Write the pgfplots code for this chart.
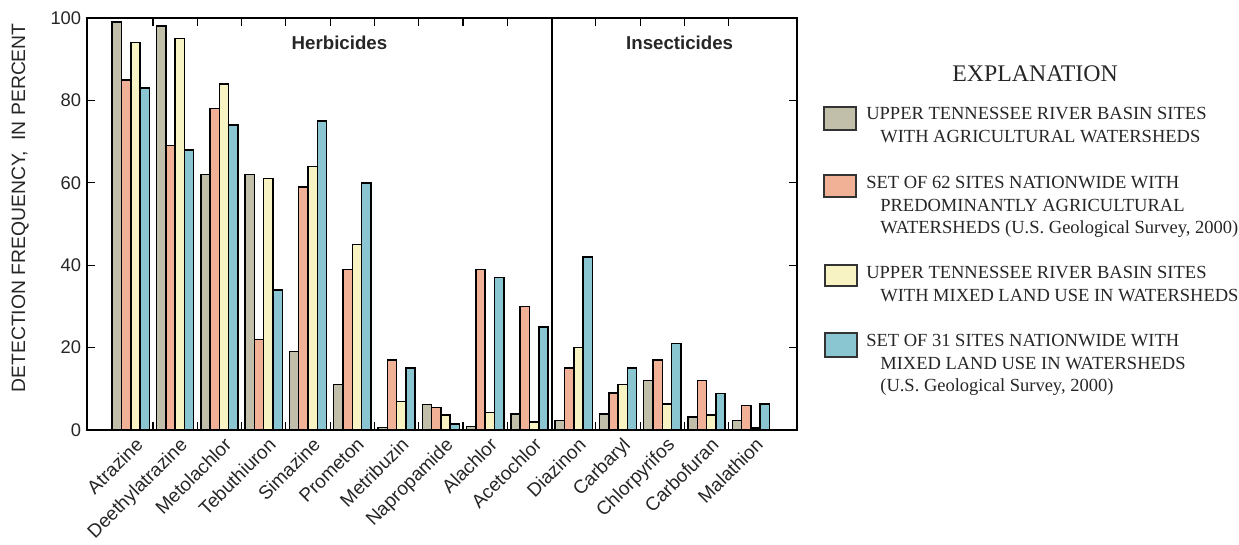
\documentclass[border=0pt]{standalone}
\usepackage{fontspec}
\setmainfont{Liberation Sans}
\newfontfamily\serif{Liberation Serif}
\usepackage{pgfplots}
\usepackage{pgfplotstable}
\pgfplotsset{compat=1.18}
\definecolor{cgray}{RGB}{193,190,170}
\definecolor{cred}{RGB}{240,177,151}
\definecolor{cyel}{RGB}{248,243,195}
\definecolor{cblue}{RGB}{137,198,210}
\pgfplotstableread{
x a b c d
0 99 85 94 83
1 98 69 95 68
2 62 78 84 74
3 62 22 61 34
4 19 59 64 75
5 11 39 45 60
6 0.6 17 6.9 15
7 6.2 5.5 3.6 1.4
8 0.8 39 4.2 37
9 3.9 30 2 25
10 2.3 15 20 42
11 3.9 9 11 15
12 12 17 6.3 21
13 3.1 12 3.6 8.8
14 2.3 5.9 0.5 6.3
}\data
\begin{document}
\begin{tikzpicture}
\begin{axis}[
  name=ax, scale only axis, width=426pt, height=247.2pt,
  xmin=-0.99, xmax=15.04, ymin=0, ymax=100,
  ybar=0pt, bar width=0.21,
  axis line style={line width=0.8pt},
  tick align=inside,
  major tick length=4.8pt,
  tick style={black, line width=0.7pt},
  xtick={0.5,1.5,...,13.5}, xticklabels={},
  extra x ticks={0,1,...,14},
  extra x tick labels={Atrazine,Deethylatrazine,Metolachlor,Tebuthiuron,Simazine,Prometon,Metribuzin,Napropamide,Alachlor,Acetochlor,Diazinon,Carbaryl,Chlorpyrifos,Carbofuran,Malathion},
  extra x tick style={major tick length=0pt, tick style={draw=none},
    tick label style={rotate=45, anchor=north east, font=\fontsize{11.4}{13}\selectfont, text=black!85, inner sep=1pt, yshift=-3pt}},
  ytick={0,20,...,100},
  yticklabel style={font=\fontsize{11}{13}\selectfont, text=black!85},
  /pgf/number format/assume math mode=true,
  ylabel={DETECTION FREQUENCY, \ IN PERCENT},
  ylabel style={at={(axis description cs:-0.094,0.539)}, anchor=center, font=\fontsize{11.6}{13}\selectfont, text=black!85},
]
\addplot[fill=cgray, draw=black, line width=0.9pt] table[x=x,y=a]{\data};
\addplot[fill=cred, draw=black, line width=0.9pt] table[x=x,y=b]{\data};
\addplot[fill=cyel, draw=black, line width=0.9pt] table[x=x,y=c]{\data};
\addplot[fill=cblue, draw=black, line width=0.9pt] table[x=x,y=d]{\data};
\draw[line width=1.2pt] (axis cs:9.5,0) -- (axis cs:9.5,100);
\node[font=\fontsize{11.2}{13}\selectfont\bfseries, text=black!85] at (axis cs:4.71,94) {Herbicides};
\node[font=\fontsize{11.2}{13}\selectfont\bfseries, text=black!85] at (axis cs:12.39,94) {Insecticides};
\end{axis}
\begin{scope}[x=0.6pt, y=-0.6pt, shift={(-87,-430)}]
\path (0,0) rectangle (1239,535);
\tikzset{lt/.style={anchor=base west, inner sep=0pt, font=\serif\fontsize{11.1}{13}\selectfont, text=black!85},
         lb/.style={draw=black!80, line width=0.7pt}}
\node[anchor=base, inner sep=0pt, font=\serif\fontsize{14.3}{16}\selectfont, text=black!85] at (1035,81) {EXPLANATION};
\filldraw[lb, fill=cgray] (824,107) rectangle (856,130);
\node[lt] at (866,119) {UPPER TENNESSEE RIVER BASIN SITES};
\node[lt] at (880,142) {WITH AGRICULTURAL WATERSHEDS};
\filldraw[lb, fill=cred] (824,175) rectangle (856,197);
\node[lt] at (866,188) {SET OF 62 SITES NATIONWIDE WITH};
\node[lt] at (880,211) {PREDOMINANTLY AGRICULTURAL};
\node[lt] at (880,233) {WATERSHEDS (U.S. Geological Survey, 2000)};
\filldraw[lb, fill=cyel] (825,265) rectangle (857,286);
\node[lt] at (866,278) {UPPER TENNESSEE RIVER BASIN SITES};
\node[lt] at (880,301) {WITH MIXED LAND USE IN WATERSHEDS};
\filldraw[lb, fill=cblue] (825,333) rectangle (857,357);
\node[lt] at (866,346) {SET OF 31 SITES NATIONWIDE WITH};
\node[lt] at (880,369) {MIXED LAND USE IN WATERSHEDS};
\node[lt] at (880,391) {(U.S. Geological Survey, 2000)};
\end{scope}
\end{tikzpicture}
\end{document}
